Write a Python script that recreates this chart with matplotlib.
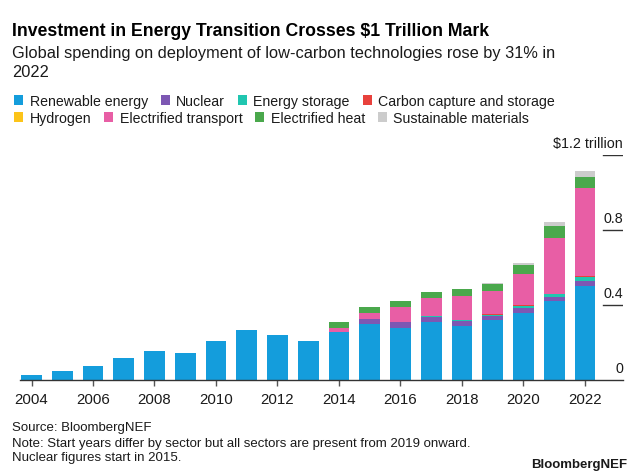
import matplotlib
matplotlib.use("Agg")
import matplotlib.pyplot as plt
import numpy as np

plt.rcParams['font.family'] = ['Liberation Sans', 'DejaVu Sans']

years = list(range(2004, 2023))
renewable = [0.028, 0.046, 0.076, 0.119, 0.156, 0.146, 0.208, 0.267, 0.240, 0.208,
             0.258, 0.299, 0.277, 0.309, 0.288, 0.318, 0.357, 0.420, 0.500]
nuclear = [0, 0, 0, 0, 0, 0, 0, 0, 0, 0,
           0, 0.026, 0.031, 0.029, 0.028, 0.025, 0.027, 0.024, 0.030]
storage = [0, 0, 0, 0, 0, 0, 0, 0, 0, 0,
           0, 0.001, 0.002, 0.003, 0.004, 0.006, 0.012, 0.013, 0.017]
ccs = [0, 0, 0, 0, 0, 0, 0, 0, 0, 0,
       0, 0, 0, 0, 0, 0.002, 0.003, 0.002, 0.006]
hydrogen = [0, 0, 0, 0, 0, 0, 0, 0, 0, 0,
            0, 0, 0, 0, 0, 0.001, 0.001, 0.001, 0.001]
transport = [0, 0, 0, 0, 0, 0, 0, 0, 0, 0,
             0.018, 0.032, 0.081, 0.094, 0.127, 0.122, 0.165, 0.299, 0.470]
heat = [0, 0, 0, 0, 0, 0, 0, 0, 0, 0,
        0.032, 0.031, 0.031, 0.036, 0.036, 0.040, 0.050, 0.064, 0.060]
materials = [0, 0, 0, 0, 0, 0, 0, 0, 0, 0,
             0, 0, 0, 0, 0, 0.002, 0.011, 0.021, 0.032]

series_names = ["Renewable energy", "Nuclear", "Energy storage", "Carbon capture and storage",
                "Hydrogen", "Electrified transport", "Electrified heat", "Sustainable materials"]
series_values = [renewable, nuclear, storage, ccs, hydrogen, transport, heat, materials]
colors = ["#149ddc", "#7d57b3", "#20c6b0", "#e8413c", "#fcc419", "#e85ea5", "#4aa84c", "#cccccc"]

tick_years = [2004, 2006, 2008, 2010, 2012, 2014, 2016, 2018, 2020, 2022]
y_ticks = [0, 0.4, 0.8, 1.2]
y_labels = ["0", "0.4", "0.8", "$1.2 trillion"]

title = "Investment in Energy Transition Crosses $1 Trillion Mark"
subtitle = "Global spending on deployment of low-carbon technologies rose by 31% in\n2022"
source = "Source: BloombergNEF"
note = "Note: Start years differ by sector but all sectors are present from 2019 onward.\nNuclear figures start in 2015."
brand = "BloombergNEF"

W, H = 640, 477
fig = plt.figure(figsize=(W / 100, H / 100), dpi=100)
fig.patch.set_facecolor("white")

ax_left, ax_right, ax_bottom, ax_top = 20, 623, 381, 156
ax = fig.add_axes([ax_left / W, 1 - ax_bottom / H, (ax_right - ax_left) / W, (ax_bottom - ax_top) / H])

x = np.array(years)
bottom = np.zeros(len(years))
handles = []
for name, vals, col in zip(series_names, series_values, colors):
    v = np.array(vals)
    bc = ax.bar(x, v, bottom=bottom, width=0.68, color=col, label=name, linewidth=0)
    handles.append(bc)
    bottom += v

ax.set_xlim(2003.626, 2023.236)
ax.set_ylim(0, 1.2)

for s in ["top", "right", "left"]:
    ax.spines[s].set_visible(False)
ax.spines["bottom"].set_color("#333333")
ax.spines["bottom"].set_linewidth(1.0)
ax.set_yticks([])
ax.set_xticks(tick_years)
ax.set_xticklabels([str(t) for t in tick_years], fontsize=10.8, color="#1a1a1a")
ax.tick_params(axis="x", direction="out", length=4, width=1, color="#555555", pad=5)

frac = (603 - ax_left) / (ax_right - ax_left)
for val, lab in zip(y_ticks, y_labels):
    if val > 0:
        ax.axhline(val, xmin=frac, xmax=1, color="#333333", lw=1)
    ax.annotate(lab, xy=(1, val), xycoords=("axes fraction", "data"),
                xytext=(0, 6), textcoords="offset points",
                ha="right", va="baseline", fontsize=10.3, color="#1a1a1a")

fig.text(12 / W, 1 - 31 / H, title, fontsize=12.7, fontweight="bold", va="center", ha="left", color="#000000")
fig.text(12 / W, 1 - 63 / H, subtitle, fontsize=11.8, va="center", ha="left", color="#1a1a1a", linespacing=1.4)

leg_kw = dict(frameon=False, fontsize=10.2, handlelength=0.65, handleheight=0.65,
              handletextpad=0.45, columnspacing=0.9, borderpad=0, borderaxespad=0,
              loc="center left", ncol=4, labelcolor="#1a1a1a")
leg1 = fig.legend(handles[:4], series_names[:4], bbox_to_anchor=(14 / W, 1 - 102 / H), **leg_kw)
leg2 = fig.legend(handles[4:], series_names[4:], bbox_to_anchor=(14 / W, 1 - 119 / H), **leg_kw)

fig.text(12 / W, 1 - 428 / H, source, fontsize=9.5, va="center", ha="left", color="#1a1a1a")
fig.text(12 / W, 1 - 451 / H, note, fontsize=9.5, va="center", ha="left", color="#1a1a1a", linespacing=1.25)
fig.text(627 / W, 1 - 465 / H, brand, fontsize=9.5, fontweight="bold", va="center", ha="right", color="#1a1a1a")

fig.savefig("out.png", dpi=100)
